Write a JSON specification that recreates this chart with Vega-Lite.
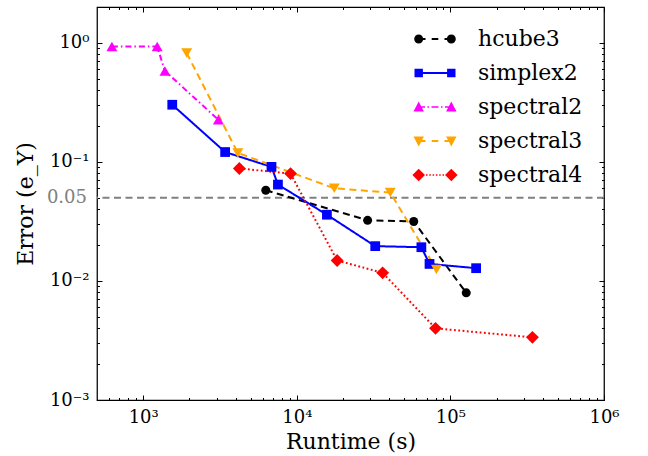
{
  "$schema": "https://vega.github.io/schema/vega-lite/v6.json",
  "width": 507,
  "height": 393,
  "autosize": {"type": "none"},
  "padding": {"left": 97, "top": 7, "right": 44, "bottom": 56},
  "config": {
    "font": "DejaVu Serif",
    "view": {"stroke": "black", "strokeWidth": 1.25},
    "style": {"guide-label": {"font": "DejaVu Serif"}},
    "axis": {
      "domain": false, "grid": false, "tickColor": "black", "tickWidth": 1,
      "labelFont": "DejaVu Serif", "labelFontSize": 18, "labelColor": "black",
      "titleFont": "DejaVu Serif", "titleFontSize": 22, "titleFontWeight": "normal", "titleColor": "black",
      "labelOverlap": false, "labelFlush": false, "labelBound": false
    },
    "legend": {"labelFont": "DejaVu Serif", "labelFontSize": 22, "labelColor": "black"}
  },
  "data": {
    "values": [
      {"series": "hcube3", "runtime": 6280, "error": 0.0578},
      {"series": "hcube3", "runtime": 28900, "error": 0.0323},
      {"series": "hcube3", "runtime": 57700, "error": 0.0316},
      {"series": "hcube3", "runtime": 126800, "error": 0.00794},
      {"series": "simplex2", "runtime": 1545, "error": 0.302},
      {"series": "simplex2", "runtime": 3414, "error": 0.121},
      {"series": "simplex2", "runtime": 6840, "error": 0.0908},
      {"series": "simplex2", "runtime": 7535, "error": 0.0645},
      {"series": "simplex2", "runtime": 15700, "error": 0.036},
      {"series": "simplex2", "runtime": 32400, "error": 0.0196},
      {"series": "simplex2", "runtime": 64700, "error": 0.0192},
      {"series": "simplex2", "runtime": 73100, "error": 0.0139},
      {"series": "simplex2", "runtime": 147000, "error": 0.0128},
      {"series": "spectral2", "runtime": 625, "error": 0.93},
      {"series": "spectral2", "runtime": 1233, "error": 0.93},
      {"series": "spectral2", "runtime": 1385, "error": 0.58},
      {"series": "spectral2", "runtime": 3085, "error": 0.226},
      {"series": "spectral3", "runtime": 1918, "error": 0.82},
      {"series": "spectral3", "runtime": 4130, "error": 0.119},
      {"series": "spectral3", "runtime": 17540, "error": 0.06},
      {"series": "spectral3", "runtime": 40600, "error": 0.0552},
      {"series": "spectral3", "runtime": 81100, "error": 0.01247},
      {"series": "spectral4", "runtime": 4225, "error": 0.088},
      {"series": "spectral4", "runtime": 9100, "error": 0.0798},
      {"series": "spectral4", "runtime": 18300, "error": 0.01485},
      {"series": "spectral4", "runtime": 36200, "error": 0.0117},
      {"series": "spectral4", "runtime": 80000, "error": 0.004},
      {"series": "spectral4", "runtime": 342000, "error": 0.00336}
    ]
  },
  "resolve": {"axis": {"x": "independent", "y": "independent"}},
  "layer": [
    {
      "data": {"values": [{"level": 0.05}]},
      "mark": {"type": "rule", "color": "#808080", "strokeWidth": 2, "strokeDash": [7, 4.5]},
      "encoding": {
        "y": {
          "field": "level", "type": "quantitative",
          "scale": {"type": "log", "domain": [0.001, 2], "nice": false},
          "axis": {
            "orient": "right",
            "values": [0.001, 0.002, 0.003, 0.004, 0.005, 0.006, 0.007, 0.008, 0.009, 0.01, 0.02, 0.03, 0.04, 0.05, 0.06, 0.07, 0.08, 0.09, 0.1, 0.2, 0.3, 0.4, 0.5, 0.6, 0.7, 0.8, 0.9, 1],
            "labels": false,
            "tickSize": {"condition": {"test": "indexof([0.001,0.01,0.1,1], datum.value) >= 0", "value": -5}, "value": -2.5},
            "title": null
          }
        }
      }
    },
    {
      "mark": {"type": "line", "strokeWidth": 2},
      "encoding": {
        "x": {
          "field": "runtime", "type": "quantitative",
          "scale": {"type": "log", "domain": [500, 1000000], "nice": false},
          "axis": {
            "orient": "bottom",
            "values": [600, 700, 800, 900, 1000, 2000, 3000, 4000, 5000, 6000, 7000, 8000, 9000, 10000, 20000, 30000, 40000, 50000, 60000, 70000, 80000, 90000, 100000, 200000, 300000, 400000, 500000, 600000, 700000, 800000, 900000, 1000000],
            "labelExpr": "datum.value==1000?'10³':datum.value==10000?'10⁴':datum.value==100000?'10⁵':datum.value==1000000?'10⁶':''",
            "tickSize": {"condition": {"test": "indexof([1000,10000,100000,1000000], datum.value) >= 0", "value": -5}, "value": -2.5},
            "labelPadding": 13,
            "title": "Runtime (s)",
            "titlePadding": 3
          }
        },
        "y": {
          "field": "error", "type": "quantitative",
          "scale": {"type": "log", "domain": [0.001, 2], "nice": false},
          "axis": {
            "orient": "left",
            "values": [0.001, 0.002, 0.003, 0.004, 0.005, 0.006, 0.007, 0.008, 0.009, 0.01, 0.02, 0.03, 0.04, 0.05, 0.06, 0.07, 0.08, 0.09, 0.1, 0.2, 0.3, 0.4, 0.5, 0.6, 0.7, 0.8, 0.9, 1],
            "labelExpr": "datum.value==1?'10⁰':datum.value==0.1?'10⁻¹':datum.value==0.01?'10⁻²':datum.value==0.001?'10⁻³':datum.value==0.05?'0.05':''",
            "labelColor": {"condition": {"test": "datum.value==0.05", "value": "#808080"}, "value": "black"},
            "tickSize": {"condition": {"test": "indexof([0.001,0.01,0.1,1], datum.value) >= 0", "value": -5}, "value": -2.5},
            "labelPadding": 13,
            "title": "Error (e_Y)",
            "titlePadding": 9
          }
        },
        "stroke": {
          "field": "series", "type": "nominal",
          "scale": {"range": ["black", "#0000ff", "#ff00ff", "#ffa500", "#ff0000"]},
          "legend": null
        },
        "strokeDash": {
          "field": "series", "type": "nominal",
          "scale": {"range": [[7, 4.5], [1, 0], [6, 3, 1.5, 3], [7, 4.5], [1.8, 2.5]]},
          "legend": null
        }
      }
    },
    {
      "transform": [{"filter": "datum.series === 'hcube3'"}],
      "mark": {"type": "point", "filled": true, "opacity": 1, "shape": "circle", "size": 81, "color": "black"},
      "encoding": {
        "x": {
          "field": "runtime", "type": "quantitative",
          "scale": {"type": "log", "domain": [500, 1000000], "nice": false},
          "axis": {
            "orient": "top",
            "values": [600, 700, 800, 900, 1000, 2000, 3000, 4000, 5000, 6000, 7000, 8000, 9000, 10000, 20000, 30000, 40000, 50000, 60000, 70000, 80000, 90000, 100000, 200000, 300000, 400000, 500000, 600000, 700000, 800000, 900000, 1000000],
            "labels": false,
            "tickSize": {"condition": {"test": "indexof([1000,10000,100000,1000000], datum.value) >= 0", "value": -5}, "value": -2.5},
            "title": null
          }
        },
        "y": {"field": "error", "type": "quantitative", "scale": {"type": "log", "domain": [0.001, 2], "nice": false}, "axis": null}
      }
    },
    {
      "transform": [{"filter": "datum.series === 'simplex2'"}],
      "mark": {"type": "point", "filled": true, "opacity": 1, "shape": "square", "size": 95, "color": "#0000ff"},
      "encoding": {
        "x": {"field": "runtime", "type": "quantitative", "scale": {"type": "log", "domain": [500, 1000000], "nice": false}, "axis": null},
        "y": {"field": "error", "type": "quantitative", "scale": {"type": "log", "domain": [0.001, 2], "nice": false}, "axis": null}
      }
    },
    {
      "transform": [{"filter": "datum.series === 'spectral2'"}],
      "mark": {"type": "point", "filled": true, "opacity": 1, "shape": "triangle-up", "size": 120, "color": "#ff00ff"},
      "encoding": {
        "x": {"field": "runtime", "type": "quantitative", "scale": {"type": "log", "domain": [500, 1000000], "nice": false}, "axis": null},
        "y": {"field": "error", "type": "quantitative", "scale": {"type": "log", "domain": [0.001, 2], "nice": false}, "axis": null}
      }
    },
    {
      "transform": [{"filter": "datum.series === 'spectral3'"}],
      "mark": {"type": "point", "filled": true, "opacity": 1, "shape": "triangle-down", "size": 120, "color": "#ffa500"},
      "encoding": {
        "x": {"field": "runtime", "type": "quantitative", "scale": {"type": "log", "domain": [500, 1000000], "nice": false}, "axis": null},
        "y": {"field": "error", "type": "quantitative", "scale": {"type": "log", "domain": [0.001, 2], "nice": false}, "axis": null}
      }
    },
    {
      "transform": [{"filter": "datum.series === 'spectral4'"}],
      "mark": {"type": "point", "filled": true, "opacity": 1, "shape": "diamond", "size": 165, "color": "#ff0000"},
      "encoding": {
        "x": {"field": "runtime", "type": "quantitative", "scale": {"type": "log", "domain": [500, 1000000], "nice": false}, "axis": null},
        "y": {"field": "error", "type": "quantitative", "scale": {"type": "log", "domain": [0.001, 2], "nice": false}, "axis": null}
      }
    },
    {
      "transform": [{"filter": "false"}],
      "mark": {"type": "point", "filled": true, "opacity": 1},
      "encoding": {
        "color": {
          "field": "series", "type": "nominal",
          "scale": {"domain": ["hcube3", "simplex2", "spectral2", "spectral3", "spectral4"], "range": ["black", "#0000ff", "#ff00ff", "#ffa500", "#ff0000"]},
          "legend": {
            "title": null,
            "orient": "top-right",
            "offset": 21,
            "padding": 0,
            "symbolSize": 400,
            "symbolStrokeWidth": 0,
            "symbolOpacity": 1,
            "rowPadding": 12,
            "labelOffset": 32,
            "labelFont": "DejaVu Serif",
            "labelFontSize": 22,
            "labelColor": "black"
          }
        },
        "shape": {
          "field": "series", "type": "nominal",
          "scale": {
            "domain": ["hcube3", "simplex2", "spectral2", "spectral3", "spectral4"],
            "range": [
              "M-2.08,0A0.45,0.45,0,1,1,-1.18,0A0.45,0.45,0,1,1,-2.08,0ZM1.18,0A0.45,0.45,0,1,1,2.08,0A0.45,0.45,0,1,1,1.18,0ZM-1.63,-0.1H-0.95V0.1H-1.63ZM-0.33,-0.1H0.33V0.1H-0.33ZM0.95,-0.1H1.63V0.1H0.95Z",
              "M-2.05,-0.42H-1.21V0.42H-2.05ZM1.21,-0.42H2.05V0.42H1.21ZM-1.63,-0.1H1.63V0.1H-1.63Z",
              "M-1.63,-0.55L-1.11,0.45H-2.15ZM1.63,-0.55L2.15,0.45H1.11ZM-1.63,-0.08H-1.0V0.08H-1.63ZM-0.75,-0.08H-0.6V0.08H-0.75ZM-0.35,-0.08H0.35V0.08H-0.35ZM0.6,-0.08H0.75V0.08H0.6ZM1.0,-0.08H1.63V0.08H1.0Z",
              "M-2.15,-0.45H-1.11L-1.63,0.55ZM1.11,-0.45H2.15L1.63,0.55ZM-1.63,-0.1H-0.95V0.1H-1.63ZM-0.33,-0.1H0.33V0.1H-0.33ZM0.95,-0.1H1.63V0.1H0.95Z",
              "M-2.26,0L-1.63,-0.63L-1.0,0L-1.63,0.63ZM1.0,0L1.63,-0.63L2.26,0L1.63,0.63ZM-0.9,-0.08H-0.75V0.08H-0.9ZM-0.57,-0.08H-0.42V0.08H-0.57ZM-0.24,-0.08H-0.09V0.08H-0.24ZM0.09,-0.08H0.24V0.08H0.09ZM0.42,-0.08H0.57V0.08H0.42ZM0.75,-0.08H0.9V0.08H0.75Z"
            ]
          }
        }
      }
    }
  ]
}
